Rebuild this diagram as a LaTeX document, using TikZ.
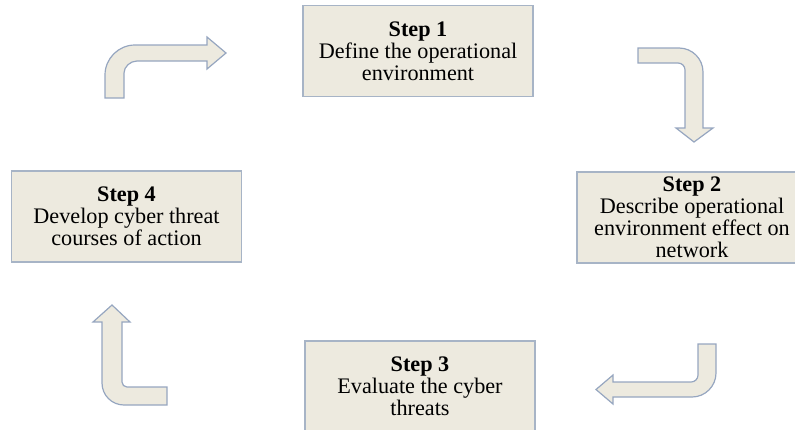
\documentclass[tikz,border=0pt]{standalone}
\usepackage{fontspec}
\setmainfont{Liberation Serif}
\usetikzlibrary{positioning}

\definecolor{boxfill}{RGB}{237,234,223}
\definecolor{boxline}{RGB}{167,180,198}
\definecolor{arrowline}{RGB}{150,166,192}

\begin{document}
\begin{tikzpicture}[x=0.5pt, y=-0.5pt,
    stepbox/.style={draw=boxline, fill=boxfill, line width=0.6pt,
                    minimum width=115pt, minimum height=45.5pt, align=center,
                    inner sep=0pt, font=\fontsize{11.1}{11}\selectfont},
    bentarrow/.style={draw=arrowline, fill=boxfill, line width=0.6pt, line join=miter}]

\useasboundingbox (0,0) rectangle (795,429);
\clip (0,0) rectangle (795,429);

\node[stepbox] (step1) at (418,51)    {\textbf{Step 1}\\Define the operational\\environment};
\node[stepbox] (step2) at (692,217.5) {\textbf{Step 2}\\Describe operational\\environment effect on\\network};
\node[stepbox] (step3) at (420,386.5) {\textbf{Step 3}\\Evaluate the cyber\\threats};
\node[stepbox] (step4) at (126.5,216.5) {\textbf{Step 4}\\Develop cyber threat\\courses of action};

% step 4 -> step 1
\draw[bentarrow] (105,98) -- (105,75) .. controls (105,58.5) and (118.5,45) .. (135,45)
  -- (207,45) -- (207,37) -- (226,53) -- (207,69) -- (207,61) -- (137,61)
  .. controls (130.4,61) and (124,66.6) .. (124,73) -- (124,98) -- cycle;

% step 1 -> step 2
\draw[bentarrow] (638,48) -- (679,48) .. controls (692.2,48) and (703,58.8) .. (703,72)
  -- (703,128) -- (713,128) -- (694,142) -- (676,128) -- (685,128) -- (685,70)
  .. controls (685,66.1) and (681.9,63) .. (678,63) -- (638,63) -- cycle;

% step 2 -> step 3
\draw[bentarrow] (698,344) -- (716,344) -- (716,373) .. controls (716,386.2) and (705.2,397) .. (692,397)
  -- (613,397) -- (613,404) -- (596,389.5) -- (613,375) -- (613,382) -- (691,382)
  .. controls (694.9,382) and (698,378.9) .. (698,375) -- cycle;

% step 3 -> step 4
\draw[bentarrow] (167,387) -- (127,387) .. controls (124.2,387) and (122,384.8) .. (122,382)
  -- (122,322) -- (130,322) -- (112,305) -- (93,322) -- (102,322) -- (102,383)
  .. controls (102,395.2) and (111.8,405) .. (124,405) -- (167,405) -- cycle;

\end{tikzpicture}
\end{document}
